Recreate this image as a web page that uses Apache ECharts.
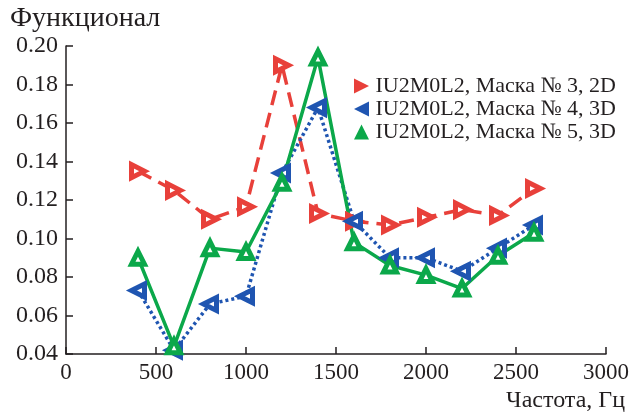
<!DOCTYPE html>
<html>
<head>
<meta charset="utf-8">
<script src="https://cdn.jsdelivr.net/npm/echarts@6/dist/echarts.min.js"></script>
<style>
  html, body { margin: 0; padding: 0; background: #fff; }
  #chart { width: 633px; height: 413px; }
</style>
</head>
<body>
<div id="chart"></div>
<script>
// Frequency grid, Hz
const frequencies = [400, 600, 800, 1000, 1200, 1400, 1600, 1800, 2000, 2200, 2400, 2600];

// Functional values per mask
const mask3_2D = [0.135, 0.125, 0.110, 0.1165, 0.190, 0.113, 0.109, 0.107, 0.111, 0.115, 0.112, 0.126];
const mask4_3D = [0.073, 0.042, 0.066, 0.070, 0.134, 0.168, 0.109, 0.090, 0.090, 0.083, 0.095, 0.107];
const mask5_3D = [0.090, 0.044, 0.095, 0.093, 0.129, 0.194, 0.098, 0.086, 0.081, 0.074, 0.091, 0.103];

const seriesNames = [
  'IU2M0L2, Маска № 3, 2D',
  'IU2M0L2, Маска № 4, 3D',
  'IU2M0L2, Маска № 5, 3D'
];

const RED = '#e8403a';
const BLUE = '#1f55b1';
const GREEN = '#0ba84a';
const TEXT = '#231f20';
const FONT = '"Liberation Serif", "DejaVu Serif", serif';

// Legend glyphs: right-, left- and up-pointing triangles
const ICON_RIGHT = 'path://M0,0L12,6L0,12Z';
const ICON_LEFT = 'path://M12,0L0,6L12,12Z';
const ICON_UP = 'path://M6,0L12,12L0,12Z';

const pairs = vals => frequencies.map((f, i) => [f, vals[i]]);

function lineSeries(name, vals, color, type, rotate) {
  return {
    name: name,
    type: 'line',
    data: pairs(vals),
    symbol: 'triangle',
    symbolSize: 13,
    symbolRotate: rotate,
    lineStyle: { color: color, width: 3.5, type: type },
    itemStyle: { color: '#fff', borderColor: color, borderWidth: 5 },
    emphasis: { disabled: true },
    z: 2
  };
}

const chart = echarts.init(document.getElementById('chart'), null, { renderer: 'canvas' });

chart.setOption({
  animation: false,
  backgroundColor: '#fff',
  title: {
    text: 'Функционал',
    left: 5,
    top: 0,
    textStyle: { fontFamily: FONT, fontSize: 28, fontWeight: 'normal', color: TEXT }
  },
  grid: { left: 66, right: 27, top: 46, bottom: 59 },
  legend: {
    orient: 'vertical',
    left: 349,
    top: 70,
    itemGap: 1,
    itemWidth: 18,
    itemHeight: 15,
    symbolRotate: 0,
    textStyle: { fontFamily: FONT, fontSize: 22, color: TEXT },
    data: [
      { name: seriesNames[0], icon: ICON_RIGHT, itemStyle: { color: RED, borderWidth: 0 } },
      { name: seriesNames[1], icon: ICON_LEFT, itemStyle: { color: BLUE, borderWidth: 0 } },
      { name: seriesNames[2], icon: ICON_UP, itemStyle: { color: GREEN, borderWidth: 0 } }
    ]
  },
  xAxis: {
    type: 'value',
    min: 0,
    max: 3000,
    interval: 500,
    name: 'Частота, Гц',
    nameLocation: 'end',
    nameGap: 19,
    nameTextStyle: {
      fontFamily: FONT, fontSize: 24, color: TEXT,
      align: 'right', verticalAlign: 'top', padding: [35, 0, 0, 0]
    },
    axisLine: { show: true, lineStyle: { color: TEXT, width: 1.5 } },
    axisTick: { show: true, inside: true, length: 7, lineStyle: { color: TEXT, width: 1.5 } },
    axisLabel: { fontFamily: FONT, fontSize: 23, color: TEXT, margin: 7, formatter: v => String(v) },
    splitLine: { show: false }
  },
  yAxis: {
    type: 'value',
    min: 0.04,
    max: 0.20,
    interval: 0.02,
    axisLine: { show: true, lineStyle: { color: TEXT, width: 1.5 } },
    axisTick: { show: true, inside: true, length: 7, lineStyle: { color: TEXT, width: 1.5 } },
    axisLabel: {
      fontFamily: FONT, fontSize: 24, color: TEXT, margin: 8,
      formatter: v => v.toFixed(2)
    },
    splitLine: { show: false }
  },
  series: [
    lineSeries(seriesNames[0], mask3_2D, RED, [15, 8], -90),
    lineSeries(seriesNames[1], mask4_3D, BLUE, [3, 3], 90),
    lineSeries(seriesNames[2], mask5_3D, GREEN, 'solid', 0)
  ]
});
</script>
</body>
</html>
